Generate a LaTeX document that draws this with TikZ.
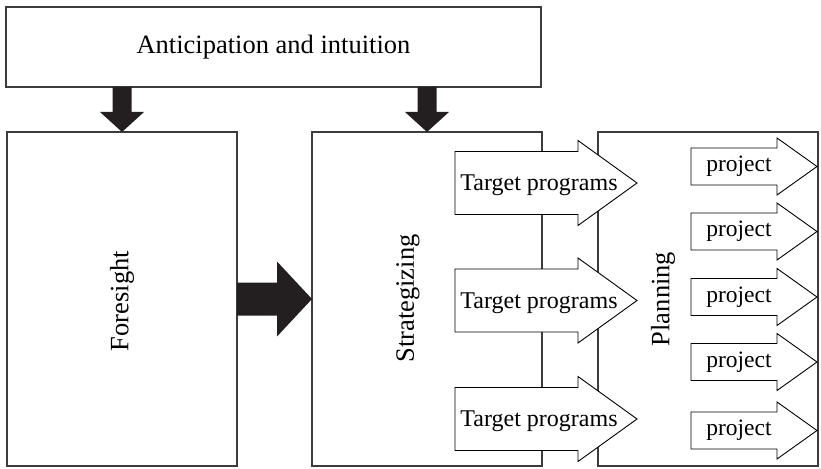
\documentclass[tikz,border=0pt]{standalone}
\usepackage{fontspec}
\setmainfont{Liberation Serif}
\usetikzlibrary{calc}

\definecolor{framegray}{HTML}{3C3C3C}
\definecolor{inkblack}{HTML}{231F20}

\tikzset{
  box/.style={draw=framegray, line width=1.4pt, fill=white, inner sep=0pt, outer sep=0pt},
  outline/.style={draw=black, line width=0.9pt, fill=white, line join=miter},
  bigtext/.style={font=\fontsize{26.5}{30}\selectfont, inner sep=0pt},
  tptext/.style={font=\fontsize{24}{28}\selectfont, inner sep=0pt, anchor=base},
  prtext/.style={font=\fontsize{23.5}{27}\selectfont, inner sep=0pt},
  % solid block arrow pointing down, from a point on the lower edge of one box to the top of another
  fatdown/.style={fill=inkblack, to path={
    let \p1=(\tikztostart), \p2=(\tikztotarget) in
    (\x2-9.5pt,\y1) -- (\x2-9.5pt,\y2+20pt) -- (\x2-22pt,\y2+20pt) -- (\x2,\y2)
    -- (\x2+22pt,\y2+20pt) -- (\x2+9.5pt,\y2+20pt) -- (\x2+9.5pt,\y1) -- cycle}},
  % solid block arrow pointing right
  fatright/.style={fill=inkblack, to path={
    let \p1=(\tikztostart), \p2=(\tikztotarget) in
    (\x1,\y1+16.5pt) -- (\x2-35pt,\y1+16.5pt) -- (\x2-35pt,\y1+37.5pt) -- (\x2,\y2)
    -- (\x2-35pt,\y1-37.5pt) -- (\x2-35pt,\y1-16.5pt) -- (\x1,\y1-16.5pt) -- cycle}},
}

\begin{document}
\begin{tikzpicture}[x=1pt, y=-1pt]
\useasboundingbox (0,0) rectangle (821,468);

% main boxes
\node[box, minimum width=535pt, minimum height=80pt] (top) at (273.5,47) {};
\node[bigtext] (toptext) at (273.5,47) {Anticipation and intuition};
\node[box, minimum width=230pt, minimum height=334pt] (fore) at (122,299) {};
\node[box, minimum width=230pt, minimum height=334pt] (strat) at (427,299) {};
\node[box, minimum width=220pt, minimum height=334pt] (plan) at (708,299) {};

% vertical stage names
\node[bigtext, rotate=90] (foretext) at (122,301) {Foresight};
\node[bigtext, rotate=90] (strattext) at (408,298.5) {Strategizing};
\node[bigtext, rotate=90] (plantext) at (663,299) {Planning};

% solid connectors
\path[fatdown] (top.south -| fore.north) to (fore.north);
\path[fatdown] (top.south -| strat.north) to (strat.north);
\path[fatright] (fore.east) to (strat.west);

% target programme arrows crossing into the planning column
\foreach \n/\yc in {1/183, 2/300.5, 3/419} {
  \draw[outline] (455,\yc-31.5) -- (578,\yc-31.5) -- (578,\yc-42.5) -- (637,\yc)
    -- (578,\yc+42.5) -- (578,\yc+31.5) -- (455,\yc+31.5) -- cycle;
  \node[tptext] (tp\n) at (539,\yc+7.5) {Target programs};
}

% project arrows
\foreach \n/\yc in {1/166.5, 2/231.5, 3/297, 4/362, 5/430.5} {
  \draw[outline] (691,\yc-18.5) -- (777,\yc-18.5) -- (777,\yc-28.5) -- (817,\yc)
    -- (777,\yc+28.5) -- (777,\yc+18.5) -- (691,\yc+18.5) -- cycle;
  \node[prtext] (pr\n) at (739,\yc) {project};
}
\end{tikzpicture}
\end{document}
